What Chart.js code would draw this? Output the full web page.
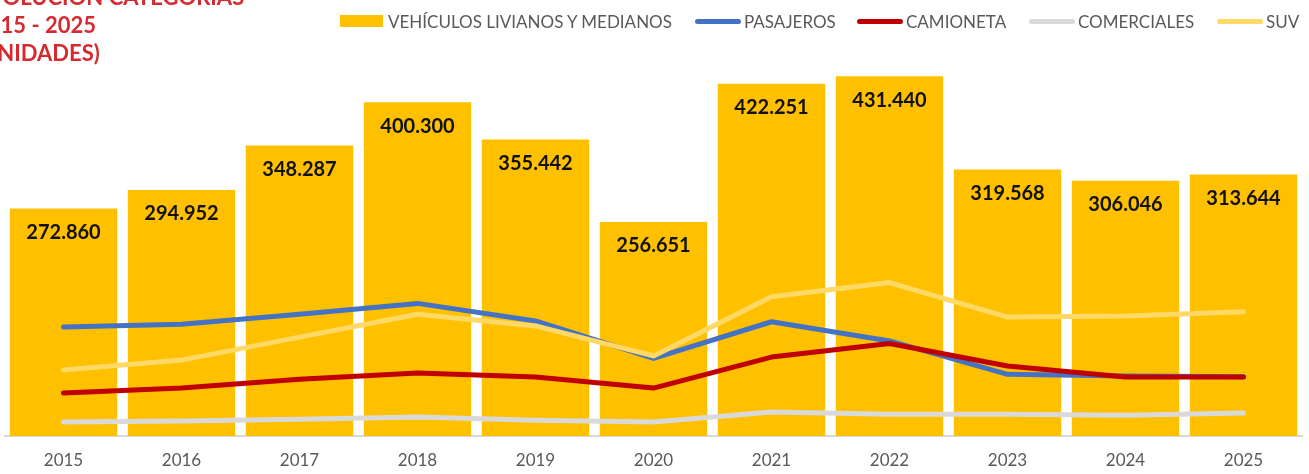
<!DOCTYPE html>
<html>
<head>
<meta charset="utf-8">
<script src="https://cdn.jsdelivr.net/npm/chart.js@4.4.0/dist/chart.umd.min.js"></script>
<style>
  body { margin: 0; background: #fff; }
  #wrap { position: relative; width: 1309px; height: 474px; overflow: hidden; }
  #grafico { display: block; }
  #titulo {
    position: absolute; left: -25px; top: -17px;
    font: bold 22px Lato, sans-serif; line-height: 28px; color: #D42A30;
  }
  .ley {
    position: absolute; top: 11px; height: 20px; display: flex; align-items: center;
    font: 17px Lato, sans-serif; color: #595959; white-space: nowrap;
  }
  .caja { width: 43px; height: 12px; background: #FFC000; margin-right: 5px; }
  .linea { width: 46px; height: 5px; border-radius: 3px; margin-right: 3px; }
</style>
</head>
<body>
<div id="wrap">
  <canvas id="grafico"></canvas>
  <div id="titulo">EVOLUCIÓN CATEGORÍAS<br>2015 - 2025<br>(UNIDADES)</div>
  <div class="ley" style="left:340px"><div class="caja"></div>VEHÍCULOS LIVIANOS Y MEDIANOS</div>
  <div class="ley" style="left:695px"><div class="linea" style="background:#4472C4"></div>PASAJEROS</div>
  <div class="ley" style="left:857px"><div class="linea" style="background:#C00000"></div>CAMIONETA</div>
  <div class="ley" style="left:1029px"><div class="linea" style="background:#D9D9D9"></div>COMERCIALES</div>
  <div class="ley" style="left:1217px"><div class="linea" style="background:#FFD966"></div>SUV</div>
</div>
<script>
// datos
const anios = ['2015','2016','2017','2018','2019','2020','2021','2022','2023','2024','2025'];
const livianos = [272860, 294952, 348287, 400300, 355442, 256651, 422251, 431440, 319568, 306046, 313644];
const pasajeros = [130600, 134000, 146000, 159000, 138000, 93000, 137000, 114000, 74000, 72000, 71000];
const camioneta = [51500, 57500, 68000, 75500, 70700, 57500, 94600, 111000, 84000, 70700, 70700];
const comerciales = [16800, 18000, 20000, 22800, 19000, 16800, 28800, 26000, 26000, 25000, 27500];
const suv = [79000, 91000, 118600, 146000, 132000, 96000, 167000, 184000, 142600, 144000, 149000];

function miles(v) {
  return String(v).replace(/\B(?=(\d{3})+(?!\d))/g, '.');
}

// etiquetas dentro de las barras
const etiquetas = {
  id: 'etiquetas',
  afterDatasetsDraw(chart) {
    const ctx = chart.ctx;
    const meta = chart.getDatasetMeta(0);
    ctx.save();
    ctx.font = 'bold 20px Lato, sans-serif';
    ctx.fillStyle = '#111';
    ctx.textAlign = 'center';
    ctx.textBaseline = 'middle';
    meta.data.forEach((bar, i) => {
      ctx.fillText(miles(livianos[i]), bar.x, bar.y + 24);
    });
    ctx.restore();
  }
};

function serie(label, data, color, order) {
  return {
    type: 'line', label, data, borderColor: color, backgroundColor: color,
    borderWidth: 5, pointRadius: 0, tension: 0, order,
    borderCapStyle: 'round', borderJoinStyle: 'round'
  };
}

new Chart(document.getElementById('grafico'), {
  type: 'bar',
  data: {
    labels: anios,
    datasets: [
      { label: 'VEHÍCULOS LIVIANOS Y MEDIANOS', data: livianos, backgroundColor: '#FFC000',
        barPercentage: 0.91, categoryPercentage: 1, order: 5 },
      serie('PASAJEROS', pasajeros, '#4472C4', 4),
      serie('CAMIONETA', camioneta, '#C00000', 3),
      serie('COMERCIALES', comerciales, '#D9D9D9', 2),
      serie('SUV', suv, '#FFD966', 1)
    ]
  },
  options: {
    responsive: true,
    maintainAspectRatio: false,
    animation: false,
    layout: { padding: { top: 19, left: 4.5, right: 6.5, bottom: 0 } },
    scales: {
      x: {
        grid: { display: false, drawTicks: false },
        border: { display: true, color: '#D9D9D9', width: 2 },
        ticks: { color: '#595959', font: { family: 'Lato', size: 17 }, padding: 14 },
        afterFit(scale) { scale.height = 38; }
      },
      y: { display: false, min: 0, max: 500000 }
    },
    plugins: { legend: { display: false }, tooltip: { enabled: false } }
  },
  plugins: [etiquetas]
});
</script>
</body>
</html>
